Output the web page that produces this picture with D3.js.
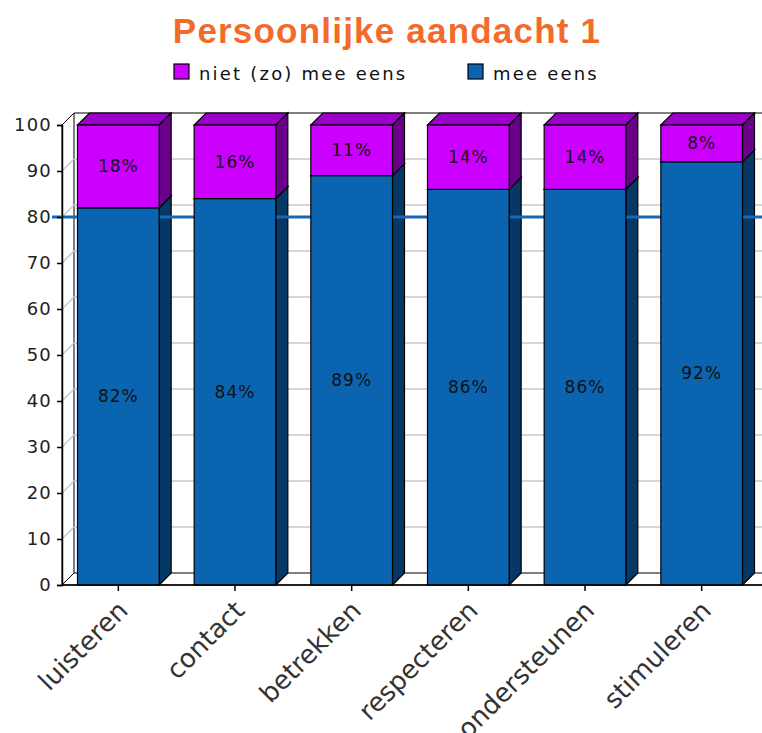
<!DOCTYPE html>
<html>
<head>
<meta charset="utf-8">
<script src="https://cdn.jsdelivr.net/npm/d3@7"></script>
<style>
  body { margin: 0; background: #fff; }
  svg { display: block; }
</style>
</head>
<body>
<svg id="chart" width="762" height="733"></svg>
<script>
// data
const categories = ["luisteren", "contact", "betrekken", "respecteren", "ondersteunen", "stimuleren"];
const meeEens = [82, 84, 89, 86, 86, 92];
const nietMeeEens = [18, 16, 11, 14, 14, 8];
const seriesNames = ["niet (zo) mee eens", "mee eens"];
const yTicks = [0, 10, 20, 30, 40, 50, 60, 70, 80, 90, 100];
const markerValue = 80;
const title = "Persoonlijke aandacht 1";

const svg = d3.select("#chart");
const width = +svg.attr("width");

// 3D depth of walls and bars
const dx = 12;
const dy = 12;
const axisX = 62;
const right = 762;

const x = d3.scaleBand()
  .domain(categories)
  .range([60, 760])
  .paddingInner(0.3)
  .paddingOuter(0.15);

const y = d3.scaleLinear()
  .domain([0, 100])
  .range([585, 125]);

const colors = {
  mee: { front: "#0b64b0", side: "#063866", top: "#0a4f8c" },
  niet: { front: "#cc00ff", side: "#680088", top: "#9e00cc" }
};

// title
svg.append("text")
  .attr("x", width / 2 + 6)
  .attr("y", 43)
  .attr("text-anchor", "middle")
  .attr("font-family", "Liberation Sans, Arial, sans-serif")
  .attr("font-weight", "bold")
  .attr("font-size", 35)
  .attr("letter-spacing", 1.2)
  .attr("fill", "#f26b2b")
  .text(title);

// legend
const legendItems = [
  { name: seriesNames[0], color: colors.niet.front, x: 174 },
  { name: seriesNames[1], color: colors.mee.front, x: 468 }
];
const legend = svg.append("g");
legend.selectAll("rect")
  .data(legendItems)
  .join("rect")
  .attr("x", (d) => d.x)
  .attr("y", 64)
  .attr("width", 15)
  .attr("height", 15)
  .attr("fill", (d) => d.color)
  .attr("stroke", "#000")
  .attr("stroke-width", 1.2);
legend.selectAll("text")
  .data(legendItems)
  .join("text")
  .attr("x", (d) => d.x + 25)
  .attr("y", 80)
  .attr("font-family", "DejaVu Sans, sans-serif")
  .attr("font-size", 18)
  .attr("letter-spacing", 2.2)
  .attr("fill", "#111")
  .text((d) => d.name);

// walls: left wall, floor
const walls = svg.append("g");
walls.append("path")
  .attr("d", `M${axisX},${y(100)}L${axisX + dx},${y(100) - dy}L${axisX + dx},${y(0) - dy}L${axisX},${y(0)}Z`)
  .attr("fill", "#fff")
  .attr("stroke", "#000");
walls.append("path")
  .attr("d", `M${axisX},${y(0)}L${axisX + dx},${y(0) - dy}L${right + 2},${y(0) - dy}L${right + 2},${y(0)}Z`)
  .attr("fill", "#fff")
  .attr("stroke", "#000");

// gridlines on the back wall and the left wall
const inner = yTicks.filter((d) => d > 0 && d < 100);
const grid = svg.append("g");
grid.selectAll("line.back")
  .data(inner)
  .join("line")
  .attr("class", "back")
  .attr("x1", axisX + dx)
  .attr("x2", right + 2)
  .attr("y1", (d) => y(d) - dy)
  .attr("y2", (d) => y(d) - dy)
  .attr("stroke", "#c8c8c8")
  .attr("stroke-width", 1.5);
grid.selectAll("line.side")
  .data(inner)
  .join("line")
  .attr("class", "side")
  .attr("x1", axisX)
  .attr("x2", axisX + dx)
  .attr("y1", (d) => y(d))
  .attr("y2", (d) => y(d) - dy)
  .attr("stroke", "#c8c8c8")
  .attr("stroke-width", 1.5);
// top edge of the back wall
grid.append("line")
  .attr("x1", axisX + dx)
  .attr("x2", right + 2)
  .attr("y1", y(100) - dy)
  .attr("y2", y(100) - dy)
  .attr("stroke", "#000");

// stacked segments: mee eens at the bottom, niet (zo) mee eens on top
const segments = [];
categories.forEach((c, i) => {
  segments.push({ cat: c, y0: 0, y1: meeEens[i], c: colors.mee });
  segments.push({ cat: c, y0: meeEens[i], y1: meeEens[i] + nietMeeEens[i], c: colors.niet });
});

const bw = x.bandwidth();
const sidePath = (d) => {
  const x1 = x(d.cat) + bw;
  return `M${x1},${y(d.y1)}L${x1 + dx},${y(d.y1) - dy}L${x1 + dx},${y(d.y0) - dy}L${x1},${y(d.y0)}Z`;
};
const topPath = (d) => {
  const x0 = x(d.cat);
  return `M${x0},${y(d.y1)}L${x0 + dx},${y(d.y1) - dy}L${x0 + bw + dx},${y(d.y1) - dy}L${x0 + bw},${y(d.y1)}Z`;
};

// side and top faces, segment by segment so upper ones cover lower tops
const bars3d = svg.append("g")
  .selectAll("g")
  .data(segments)
  .join("g");
bars3d.append("path")
  .attr("d", topPath)
  .attr("fill", (d) => d.c.top)
  .attr("stroke", "#000")
  .attr("stroke-width", 1.2);
bars3d.append("path")
  .attr("d", sidePath)
  .attr("fill", (d) => d.c.side)
  .attr("stroke", "#000")
  .attr("stroke-width", 1.2);

// target marker at 80
svg.append("line")
  .attr("x1", 52)
  .attr("x2", right)
  .attr("y1", y(markerValue))
  .attr("y2", y(markerValue))
  .attr("stroke", "#1767b4")
  .attr("stroke-width", 3);

// front faces
const fronts = svg.append("g");
fronts.selectAll("rect")
  .data(segments)
  .join("rect")
  .attr("x", (d) => x(d.cat))
  .attr("y", (d) => y(d.y1))
  .attr("width", bw)
  .attr("height", (d) => y(d.y0) - y(d.y1))
  .attr("fill", (d) => d.c.front)
  .attr("stroke", "#000")
  .attr("stroke-width", 1.2);

// value labels
fronts.selectAll("text")
  .data(segments)
  .join("text")
  .attr("x", (d) => x(d.cat) + bw / 2)
  .attr("y", (d) => (y(d.y0) + y(d.y1)) / 2 + 6)
  .attr("text-anchor", "middle")
  .attr("font-family", "DejaVu Sans, sans-serif")
  .attr("font-size", 17)
  .attr("letter-spacing", 1)
  .attr("fill", "#111")
  .text((d) => d.y1 - d.y0 + "%");

// y axis
const yAxis = svg.append("g")
  .attr("transform", `translate(${axisX},0)`)
  .call(d3.axisLeft(y).tickValues(yTicks).tickSize(5).tickPadding(5));
yAxis.select(".domain").attr("stroke", "#000").attr("stroke-width", 1.5);
yAxis.selectAll(".tick line").attr("stroke", "#000").attr("stroke-width", 1.5);
yAxis.selectAll(".tick text")
  .attr("font-family", "DejaVu Sans, sans-serif")
  .attr("font-size", 18)
  .attr("letter-spacing", 1.2)
  .attr("fill", "#222");

// x axis
const xAxis = svg.append("g")
  .attr("transform", `translate(0,${y(0)})`)
  .call(d3.axisBottom(x).tickSize(6).tickSizeOuter(0));
xAxis.select(".domain").attr("d", `M${axisX},0H${right + 2}`).attr("stroke", "#000").attr("stroke-width", 1.5);
xAxis.selectAll(".tick line").attr("stroke", "#000").attr("stroke-width", 1.5);
xAxis.selectAll(".tick text")
  .attr("font-family", "DejaVu Sans, sans-serif")
  .attr("font-size", 26)
  .attr("fill", "#333")
  .attr("text-anchor", "end")
  .attr("dy", null)
  .attr("y", 0)
  .attr("transform", "translate(11,27) rotate(-45)");
</script>
</body>
</html>
